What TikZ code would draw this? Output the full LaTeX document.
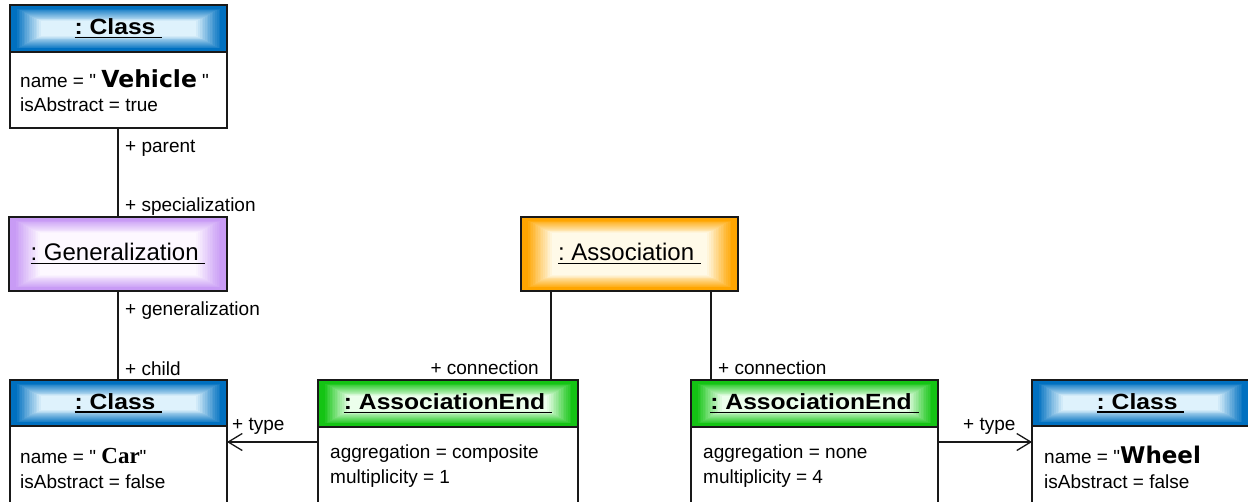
\documentclass[tikz,border=0pt]{standalone}
\usepackage{fontspec}
\setmainfont{Liberation Sans}
\newfontfamily\hdfont{Liberation Sans}[FakeStretch=1.12]
\newfontfamily\widebold{DejaVu Sans}
\newfontfamily\serifbold{Liberation Serif}
\usetikzlibrary{calc,arrows.meta}
\frenchspacing

\definecolor{clsblue}{RGB}{0,112,192}
\definecolor{clslight}{RGB}{222,242,252}
\definecolor{endgreen}{RGB}{20,196,20}
\definecolor{endlight}{RGB}{236,255,236}
\definecolor{genpurple}{RGB}{200,155,245}
\definecolor{genlight}{RGB}{253,248,255}
\definecolor{asorange}{RGB}{255,165,0}
\definecolor{aslight}{RGB}{255,250,232}
\definecolor{linec}{RGB}{25,25,25}

% object name with an underline running under a trailing space
\newcommand\objname[1]{\setbox0\hbox{#1\ }\rlap{\copy0}\rule[-3.5pt]{\wd0}{1.5pt}}
\newcommand\hdr[1]{{\hdfont\bfseries\fontsize{22}{26}\selectfont\objname{#1}}}
\newcommand\hdrplain[1]{{\fontsize{24}{28}\selectfont\objname{#1}}}
\newcommand\qt{\textquotedbl}

\tikzset{
  box/.style={draw=linec, line width=1.3pt, rectangle, inner sep=0pt, outer sep=0pt},
  % rectangular glow: saturated rim fading to a pale centre
  glow/.style 2 args={path picture={
    \foreach \i in {0,...,18}{
      \pgfmathtruncatemacro\p{min(100,(18-\i)*100/15)}
      \fill[#1!\p!#2] ($(path picture bounding box.south west)+(1.7*\i,-0.9*\i)$)
        rectangle ($(path picture bounding box.north east)+(-1.7*\i,0.9*\i)$);
    }}},
  attr/.style={inner sep=0pt, anchor=base west, font=\fontsize{19}{24}\selectfont},
  role/.style={inner sep=0pt, font=\fontsize{19}{24}\selectfont},
  link/.style={draw=linec, line width=1.3pt},
  typearrow/.style={link, -{Straight Barb[length=14pt, width=17pt, line width=1.3pt]}},
}

\begin{document}
\begin{tikzpicture}[x=1pt, y=-1pt]
\useasboundingbox (0,0) rectangle (1248,501);
\clip (0,0) rectangle (1248,501);

% Class Vehicle
\node[box, glow={clsblue}{clslight}, minimum width=217pt, minimum height=47pt, anchor=north west]
  (vehHead) at (10,5) {\hdr{: Class}};
\node[box, minimum width=217pt, minimum height=76pt, anchor=north west]
  (vehBody) at (vehHead.south west) {};
\node[attr] (vehName) at (20,87) {name = \qt\ {\widebold\bfseries\fontsize{23.5}{24}\selectfont Vehicle} \qt};
\node[attr] (vehAbs) at (20,111) {isAbstract = true};

% Generalization
\node[box, glow={genpurple}{genlight}, minimum width=218pt, minimum height=74pt, anchor=north west]
  (gen) at (9,217) {\hdrplain{: Generalization}};

% Class Car
\node[box, glow={clsblue}{clslight}, minimum width=217pt, minimum height=46pt, anchor=north west]
  (carHead) at (10,380) {\hdr{: Class}};
\node[box, minimum width=217pt, minimum height=100pt, anchor=north west]
  (carBody) at (carHead.south west) {};
\node[attr] (carName) at (20,463) {name = \qt\ {\serifbold\bfseries\fontsize{23}{24}\selectfont Car}\qt};
\node[attr] (carAbs) at (20,488) {isAbstract = false};

% Association
\node[box, glow={asorange}{aslight}, minimum width=217pt, minimum height=74pt, anchor=north west]
  (assoc) at (521,217) {\hdrplain{: Association}};

% AssociationEnd (composite)
\node[box, glow={endgreen}{endlight}, minimum width=260pt, minimum height=47pt, anchor=north west]
  (endLHead) at (318,380) {\hdr{: AssociationEnd}};
\node[box, minimum width=260pt, minimum height=100pt, anchor=north west]
  (endLBody) at (endLHead.south west) {};
\node[attr] (endLAgg) at (330,458) {aggregation = composite};
\node[attr] (endLMul) at (330,483) {multiplicity = 1};

% AssociationEnd (none)
\node[box, glow={endgreen}{endlight}, minimum width=247pt, minimum height=47pt, anchor=north west]
  (endRHead) at (691,380) {\hdr{: AssociationEnd}};
\node[box, minimum width=247pt, minimum height=100pt, anchor=north west]
  (endRBody) at (endRHead.south west) {};
\node[attr] (endRAgg) at (703,458) {aggregation = none};
\node[attr] (endRMul) at (703,483) {multiplicity = 4};

% Class Wheel
\node[box, glow={clsblue}{clslight}, minimum width=217pt, minimum height=46pt, anchor=north west]
  (whHead) at (1032,380) {\hdr{: Class}};
\node[box, minimum width=217pt, minimum height=100pt, anchor=north west]
  (whBody) at (whHead.south west) {};
\node[attr] (whName) at (1044,463) {name = \qt{\widebold\bfseries\fontsize{23}{24}\selectfont Wheel}};
\node[attr] (whAbs) at (1044,488) {isAbstract = false};

% links
\draw[link] (vehBody.south -| 118,0) -- (gen.north -| 118,0);
\draw[link] (gen.south -| 118,0) -- (carHead.north -| 118,0);
\coordinate (cL) at (551,291);
\coordinate (cR) at (711,291);
\draw[link] (cL) -- (cL |- endLHead.north);
\draw[link] (cR) -- (cR |- endRHead.north);
\coordinate (ty) at (0,442);
\draw[typearrow] (endLBody.west |- ty) -- (carBody.east |- ty);
\draw[typearrow] (endRBody.east |- ty) -- (whBody.west |- ty);

% role names
\node[role, anchor=base west] (rParent) at (125,152) {+ parent};
\node[role, anchor=base west] (rSpec) at (125,211) {+ specialization};
\node[role, anchor=base west] (rGenz) at (125,315) {+ generalization};
\node[role, anchor=base west] (rChild) at (125,375) {+ child};
\node[role, anchor=base east] (rConnL) at (539,374) {+ connection};
\node[role, anchor=base west] (rConnR) at (718,374) {+ connection};
\node[role, anchor=base west] (rTypeL) at (232,430) {+ type};
\node[role, anchor=base west] (rTypeR) at (963,430) {+ type};
\end{tikzpicture}
\end{document}
